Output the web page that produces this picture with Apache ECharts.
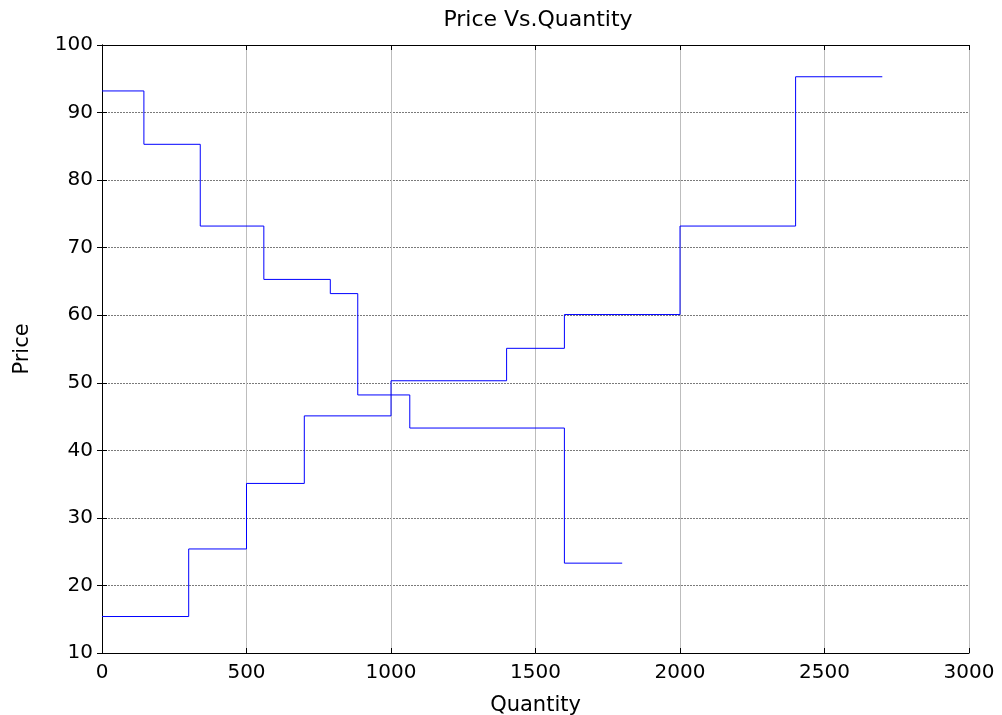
<!DOCTYPE html>
<html>
<head>
<meta charset="utf-8">
<script src="https://cdn.jsdelivr.net/npm/echarts@6/dist/echarts.min.js"></script>
<style>html,body{margin:0;padding:0;background:#fff;}#c{width:1002px;height:715px;}</style>
</head>
<body>
<div id="c"></div>
<script>
const titleText = 'Price Vs.Quantity';
const xName = 'Quantity';
const yName = 'Price';
const xTicks = [0, 500, 1000, 1500, 2000, 2500, 3000];
const yTicks = [10, 20, 30, 40, 50, 60, 70, 80, 90, 100];

const supplyQty   = [0, 145, 340, 560, 790, 885, 1065, 1600, 1800];
const supplyPrice = [93.2, 85.3, 73.2, 65.3, 63.2, 48.2, 43.3, 23.3, 23.3];

const demandQty   = [0, 300, 500, 700, 1000, 1400, 1600, 2000, 2400, 2700];
const demandPrice = [15.4, 25.4, 35.1, 45.1, 50.3, 55.1, 60.1, 73.2, 95.3, 95.3];

const font = 'DejaVu Sans';
const chart = echarts.init(document.getElementById('c'), null, {renderer: 'canvas'});

const pairs = (xs, ys) => xs.map((x, i) => [x, ys[i]]);
const plain = v => String(v);

const axisLineStyle = {show: true, lineStyle: {color: '#000', width: 1}};
const tickStyle = {show: true, inside: true, length: 5, lineStyle: {color: '#000', width: 1}};

chart.setOption({
  animation: false,
  backgroundColor: '#fff',
  title: {
    text: titleText,
    left: 533, top: 4, textAlign: 'center',
    textStyle: {fontFamily: font, fontSize: 22, fontWeight: 'normal', color: '#000'}
  },
  grid: {left: 102, right: 33, top: 45, bottom: 62, containLabel: false, outerBoundsMode: 'none'},
  xAxis: [{
    type: 'value', position: 'bottom',
    min: xTicks[0], max: xTicks[xTicks.length - 1], interval: xTicks[1] - xTicks[0],
    name: xName, nameLocation: 'middle', nameGap: 42,
    nameTextStyle: {fontFamily: font, fontSize: 21, color: '#000'},
    axisLine: axisLineStyle, axisTick: tickStyle,
    axisLabel: {fontFamily: font, fontSize: 20, color: '#000', margin: 10, formatter: plain},
    splitLine: {show: true, lineStyle: {color: '#bdbdbd', width: 1, type: 'solid'}}
  }, {
    type: 'value', position: 'top',
    min: xTicks[0], max: xTicks[xTicks.length - 1], interval: xTicks[1] - xTicks[0],
    axisLine: axisLineStyle, axisTick: tickStyle,
    axisLabel: {show: false}, splitLine: {show: false}
  }],
  yAxis: [{
    type: 'value', position: 'left',
    min: yTicks[0], max: yTicks[yTicks.length - 1], interval: yTicks[1] - yTicks[0],
    name: yName, nameLocation: 'middle', nameGap: 69, nameRotate: 90,
    nameTextStyle: {fontFamily: font, fontSize: 21, color: '#000'},
    axisLine: axisLineStyle, axisTick: tickStyle,
    axisLabel: {fontFamily: font, fontSize: 20, color: '#000', margin: 9, formatter: plain},
    splitLine: {show: true, lineStyle: {color: '#7a7a7a', width: 1, type: [2, 1]}}
  }, {
    type: 'value', position: 'right',
    min: yTicks[0], max: yTicks[yTicks.length - 1], interval: yTicks[1] - yTicks[0],
    axisLine: axisLineStyle, axisTick: tickStyle,
    axisLabel: {show: false}, splitLine: {show: false}
  }],
  series: [{
    name: 'Supply', type: 'line', step: 'end',
    xAxisIndex: 0, yAxisIndex: 0,
    data: pairs(supplyQty, supplyPrice),
    showSymbol: false, symbol: 'none',
    lineStyle: {color: '#0000ff', width: 1}
  }, {
    name: 'Demand', type: 'line', step: 'end',
    xAxisIndex: 0, yAxisIndex: 0,
    data: pairs(demandQty, demandPrice),
    showSymbol: false, symbol: 'none',
    lineStyle: {color: '#0000ff', width: 1}
  }]
});
</script>
</body>
</html>
